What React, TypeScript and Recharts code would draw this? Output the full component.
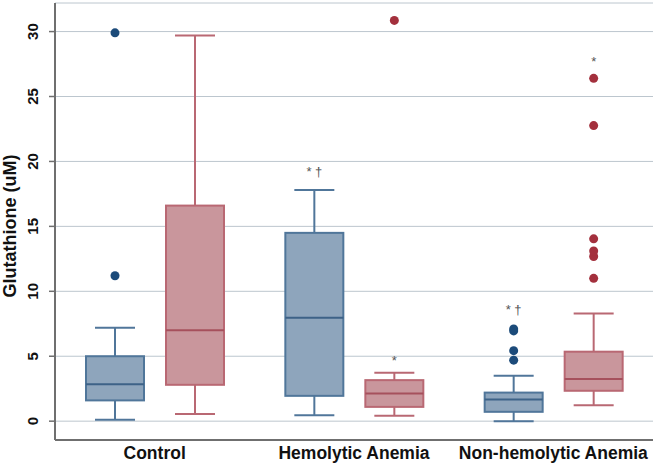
import React from 'react';
import { ComposedChart, Bar, XAxis, YAxis, CartesianGrid } from 'recharts';

// ---------- data ----------
const categories = ['Control', 'Hemolytic Anemia', 'Non-hemolytic Anemia'];
const yTicks = [0, 5, 10, 15, 20, 25, 30];

// blue series
const blueMin = [0.1, 0.45, 0.0];
const blueQ1 = [1.6, 1.95, 0.72];
const blueMedian = [2.85, 7.97, 1.67];
const blueQ3 = [5.0, 14.5, 2.2];
const blueMax = [7.2, 17.8, 3.5];
const blueOutliers = [[11.2, 29.9], [], [4.7, 5.43, 6.95, 7.1]];
const blueMarks = ['', '* †', '* †'];
const blueMarkAt = [0, 19.4, 8.8];

// red series
const redMin = [0.55, 0.41, 1.23];
const redQ1 = [2.8, 1.1, 2.34];
const redMedian = [7.0, 2.13, 3.24];
const redQ3 = [16.6, 3.16, 5.35];
const redMax = [29.7, 3.73, 8.3];
const redOutliers = [[], [30.86], [11.0, 12.68, 13.1, 14.04, 22.76, 26.4]];
const redMarks = ['', '*', '*'];
const redMarkAt = [0, 4.9, 27.9];

const data = categories.map((name, i) => ({
  name,
  blueRange: [blueMin[i], blueMax[i]],
  redRange: [redMin[i], redMax[i]],
  blue: { min: blueMin[i], q1: blueQ1[i], med: blueMedian[i], q3: blueQ3[i], max: blueMax[i], out: blueOutliers[i], mark: blueMarks[i], markAt: blueMarkAt[i] },
  red: { min: redMin[i], q1: redQ1[i], med: redMedian[i], q3: redQ3[i], max: redMax[i], out: redOutliers[i], mark: redMarks[i], markAt: redMarkAt[i] },
}));

const STYLE: Record<string, any> = {
  blue: { fill: '#8ea5bc', stroke: '#50769a', median: '#3d6287', dot: '#1c4b7a' },
  red: { fill: '#c9969c', stroke: '#b96873', median: '#a6505c', dot: '#a3303d' },
};

const FONT = '"Liberation Sans", Arial, sans-serif';

const makeBoxShape = (key: 'blue' | 'red') => (props: any) => {
  const { x, y, width, height, payload } = props;
  const s = payload[key];
  const st = STYLE[key];
  const k = height / (s.max - s.min);
  const py = (v: number) => y + (s.max - v) * k;
  const cx = x + width / 2;
  const cap = 20;
  return (
    <g>
      <line x1={cx} x2={cx} y1={py(s.max)} y2={py(s.q3)} stroke={st.stroke} strokeWidth={2} />
      <line x1={cx} x2={cx} y1={py(s.q1)} y2={py(s.min)} stroke={st.stroke} strokeWidth={2} />
      <line x1={cx - cap} x2={cx + cap} y1={py(s.max)} y2={py(s.max)} stroke={st.stroke} strokeWidth={2} />
      <line x1={cx - cap} x2={cx + cap} y1={py(s.min)} y2={py(s.min)} stroke={st.stroke} strokeWidth={2} />
      <rect x={x} y={py(s.q3)} width={width} height={py(s.q1) - py(s.q3)} fill={st.fill} stroke={st.stroke} strokeWidth={2} />
      <line x1={x} x2={x + width} y1={py(s.med)} y2={py(s.med)} stroke={st.median} strokeWidth={2} />
      {s.out.map((v: number, j: number) => (
        <circle key={j} cx={cx} cy={py(v)} r={4.5} fill={st.dot} />
      ))}
      {s.mark ? (
        <text x={cx} y={py(s.markAt) + 7} textAnchor="middle" fontSize={13} fill="#555" fontFamily={FONT}>
          {s.mark}
        </text>
      ) : null}
    </g>
  );
};

const YTick = (props: any) => {
  const { y, payload } = props;
  const tx = 38.5;
  return (
    <text x={tx} y={y} transform={`rotate(-90, ${tx}, ${y})`} textAnchor="middle" fontSize={15} fontWeight="bold" fill="#111" fontFamily={FONT}>
      {payload.value}
    </text>
  );
};

const XTick = (props: any) => {
  const { x, payload } = props;
  return (
    <text x={x} y={459} textAnchor="middle" fontSize={17.5} fontWeight="bold" fill="#111" fontFamily={FONT}>
      {payload.value}
    </text>
  );
};

const YLabel = (props: any) => {
  const lx = 16;
  const ly = 226;
  return (
    <text x={lx} y={ly} transform={`rotate(-90, ${lx}, ${ly})`} textAnchor="middle" fontSize={18} fontWeight="bold" fill="#111" fontFamily={FONT}>
      Glutathione (uM)
    </text>
  );
};

export default function App() {
  return (
    <div style={{ position: 'absolute', left: 0, top: 0, background: '#fff' }}>
      <ComposedChart
        width={665}
        height={469}
        data={data}
        margin={{ top: 3, right: 12, left: 0, bottom: 0 }}
        barSize={58}
        barGap={22}
      >
        <CartesianGrid horizontal vertical={false} stroke="#bcc6ce" strokeWidth={1} />
        <XAxis
          dataKey="name"
          height={29}
          tickLine={false}
          axisLine={{ stroke: '#6f6f6f', strokeWidth: 2 }}
          tick={<XTick />}
          interval={0}
        />
        <YAxis
          type="number"
          width={55}
          domain={[-1.45, 32.2]}
          ticks={yTicks}
          interval={0}
          tickSize={6}
          tickLine={{ stroke: '#6f6f6f', strokeWidth: 1.5 }}
          axisLine={{ stroke: '#6f6f6f', strokeWidth: 2 }}
          tick={<YTick />}
          label={<YLabel />}
        />
        <Bar dataKey="blueRange" shape={makeBoxShape('blue')} isAnimationActive={false} />
        <Bar dataKey="redRange" shape={makeBoxShape('red')} isAnimationActive={false} />
      </ComposedChart>
    </div>
  );
}
